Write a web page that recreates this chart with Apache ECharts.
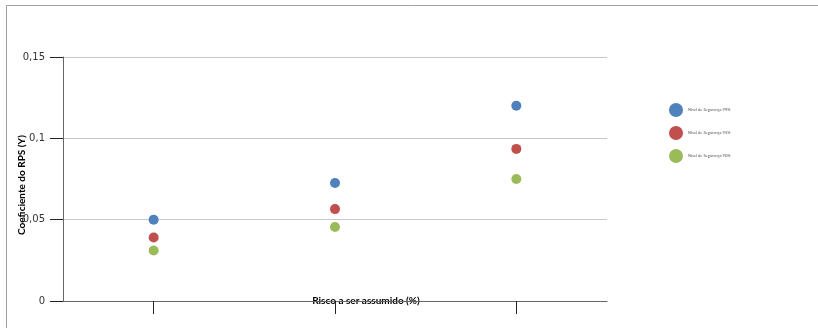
<!DOCTYPE html>
<html>
<head>
<meta charset="utf-8">
<script src="https://cdn.jsdelivr.net/npm/echarts@6/dist/echarts.min.js"></script>
<style>
  html, body { margin: 0; padding: 0; background: #fff; }
  #chart { width: 818px; height: 328px; }
</style>
</head>
<body>
<div id="chart"></div>
<script>
const categories = ['1', '2', '3'];
const seriesNames = ['Nível de Segurança 99%', 'Nível de Segurança 95%', 'Nível de Segurança 90%'];
const seriesColors = ['#4F81BD', '#C0504D', '#9BBB59'];
const nivel99 = [0.050, 0.0725, 0.120];
const nivel95 = [0.039, 0.0565, 0.0935];
const nivel90 = [0.031, 0.0455, 0.075];
const seriesValues = [nivel99, nivel95, nivel90];

const chart = echarts.init(document.getElementById('chart'), null, {renderer: 'canvas'});

const option = {
    animation: false,
    textStyle: {fontFamily: 'Lato'},
    grid: {left: 63, right: 211, top: 57, bottom: 27},
    legend: {
        orient: 'vertical',
        left: 664,
        top: 98,
        itemWidth: 14,
        itemHeight: 14,
        itemGap: 9,
        icon: 'circle',
        textStyle: {fontSize: 4, color: '#555'},
        data: seriesNames
    },
    xAxis: {
        type: 'category',
        data: categories,
        axisLine: {lineStyle: {color: '#666', width: 1}},
        axisTick: {show: true, alignWithLabel: true, length: 13, lineStyle: {color: '#222'}},
        axisLabel: {show: true, color: 'rgba(0,0,0,0)', fontSize: 1},
        splitLine: {show: false}
    },
    yAxis: {
        type: 'value',
        min: 0,
        max: 0.15,
        interval: 0.05,
        axisLine: {show: true, lineStyle: {color: '#666', width: 1}},
        axisTick: {show: true, length: 13, lineStyle: {color: '#222'}},
        axisLabel: {
            margin: 18,
            fontSize: 10,
            color: '#333',
            fontFamily: 'DejaVu Sans',
            formatter: v => String(Math.round(v * 100) / 100).replace('.', ',')
        },
        splitLine: {lineStyle: {color: '#c8c8c8'}}
    },
    series: seriesNames.map((name, i) => ({
        name: name,
        type: 'scatter',
        symbolSize: 10,
        itemStyle: {color: seriesColors[i], opacity: 1},
        data: seriesValues[i]
    })),
    graphic: [
        {
            type: 'rect',
            left: 4, top: 3,
            shape: {width: 820, height: 323},
            style: {fill: 'none', stroke: '#a0a0a0', lineWidth: 1}
        },
        {
            type: 'text',
            x: 366, y: 301,
            style: {
                text: 'Risco a ser assumido (%)',
                font: 'bold 10px Lato',
                fill: '#000',
                align: 'center',
                verticalAlign: 'middle'
            }
        },
        {
            type: 'text',
            x: 22, y: 185,
            rotation: Math.PI / 2,
            style: {
                text: 'Coeficiente do RPS (Y)',
                font: 'bold 10px Lato',
                fill: '#000',
                align: 'center',
                verticalAlign: 'middle'
            }
        }
    ]
};

chart.setOption(option);
</script>
</body>
</html>
